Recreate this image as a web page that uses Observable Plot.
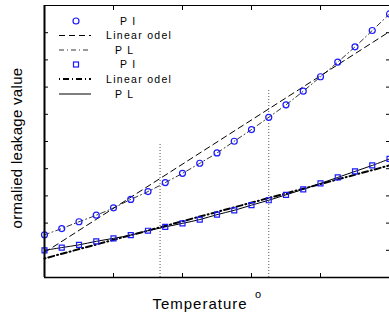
<!DOCTYPE html>
<html><head><meta charset="utf-8">
<script src="https://cdn.jsdelivr.net/npm/d3@7"></script>
<script src="https://cdn.jsdelivr.net/npm/@observablehq/plot@0.6"></script>
<style>body{margin:0;background:#fff} svg{display:block;overflow:visible}</style>
</head><body><div id="chart"></div>
<script>
const temps = [0,1,2,3,4,5,6,7,8,9,10,11,12,13,14,15,16,17,18,19,20];
const circleVals = [1.57,1.80,2.05,2.29,2.56,2.87,3.16,3.49,3.83,4.20,4.58,5.01,5.44,5.89,6.35,6.85,7.38,7.92,8.48,9.08,9.69];
const squareVals = [1.00,1.10,1.20,1.33,1.44,1.56,1.72,1.86,1.99,2.13,2.31,2.47,2.66,2.84,3.04,3.24,3.46,3.68,3.90,4.12,4.36];
const linearTemps = [0, 20];
const linearCircle = [0.92, 9.04];
const linearSquare = [0.70, 4.12];
const markerTemps = [6.7, 13];
const markerTops = [4.93, 6.95];
const xTicks = [0,4,8,12,16,20];
const yTicks = [0,1,2,3,4,5,6,7,8,9,10];
const legendLabels = ["P I","Linear odel","P L","P I","Linear odel","P L"];
const xLabel = "Temperature";
const xLabelSup = "o";
const yLabel = "ormalied leakage value";

const circles = temps.map((t,i)=>({t, v: circleVals[i]}));
const squares = temps.map((t,i)=>({t, v: squareVals[i]}));
const lin1 = linearTemps.map((t,i)=>({t, v: linearCircle[i]}));
const lin2 = linearTemps.map((t,i)=>({t, v: linearSquare[i]}));
const markers = markerTemps.map((t,i)=>({t, top: markerTops[i]}));
const blue = "#1a1aff";

function decorations(index, scales, values, dims) {
  const g = d3.create("svg:g").attr("font-family", "'Liberation Sans', Arial, sans-serif").attr("text-anchor", "start");
  const rows = [21, 35.5, 50, 64.5, 79, 94];
  const textX = [120, 106, 115, 120, 106, 115];
  const lx1 = 59, lx2 = 91, sx = 76;
  g.append("circle").attr("cx", sx).attr("cy", rows[0]).attr("r", 3).attr("fill", "none").attr("stroke", blue).attr("stroke-width", 1.2);
  g.append("line").attr("x1", lx1).attr("x2", lx2).attr("y1", rows[1]).attr("y2", rows[1]).attr("stroke", "#000").attr("stroke-dasharray", "6,4");
  g.append("line").attr("x1", lx1).attr("x2", lx2).attr("y1", rows[2]).attr("y2", rows[2]).attr("stroke", "#000").attr("stroke-width", 0.8).attr("stroke-dasharray", "5,3,1,3");
  g.append("rect").attr("x", sx-2.5).attr("y", rows[3]-2.5).attr("width", 5).attr("height", 5).attr("fill", "none").attr("stroke", blue).attr("stroke-width", 1.2);
  g.append("line").attr("x1", lx1).attr("x2", lx2).attr("y1", rows[4]).attr("y2", rows[4]).attr("stroke", "#000").attr("stroke-width", 2).attr("stroke-dasharray", "1,3,6,3");
  g.append("line").attr("x1", lx1).attr("x2", lx2).attr("y1", rows[5]).attr("y2", rows[5]).attr("stroke", "#000").attr("stroke-width", 1);
  legendLabels.forEach((s, i) => {
    g.append("text").attr("x", textX[i]).attr("y", rows[i]).attr("dy", "0.35em").attr("text-anchor", "start")
      .attr("font-size", 10.5).attr("letter-spacing", "1.3px").attr("fill", "#000").text(s);
  });
  g.append("text").attr("x", 200).attr("y", 309).attr("text-anchor", "middle")
    .attr("font-size", 15).attr("letter-spacing", "1px").text(xLabel);
  g.append("text").attr("x", 258).attr("y", 298).attr("text-anchor", "middle")
    .attr("font-size", 11).text(xLabelSup);
  g.append("text").attr("transform", "translate(22,148) rotate(-90)").attr("text-anchor", "middle")
    .attr("font-size", 15).attr("letter-spacing", "0.3px").text(yLabel);
  return g.node();
}

const chart = Plot.plot({
  width: 389, height: 320,
  marginLeft: 44, marginRight: 0, marginTop: 5, marginBottom: 43,
  x: {domain: [0, 20]},
  y: {domain: [0, 10]},
  style: {background: "#fff"},
  marks: [
    Plot.ruleY([10], {stroke: "#000", strokeWidth: 1}),
    Plot.axisX({anchor: "bottom", ticks: xTicks, tickSize: -4, tickFormat: () => "", label: null}),
    Plot.axisX({anchor: "top", ticks: xTicks, tickSize: -4, tickFormat: () => "", label: null}),
    Plot.axisY({anchor: "left", ticks: yTicks, tickSize: -4, tickFormat: () => "", label: null}),
    Plot.axisY({anchor: "right", ticks: yTicks, tickSize: -4, tickFormat: () => "", label: null}),
    Plot.ruleX(markers, {x: "t", y1: 0, y2: "top", stroke: "#555", strokeWidth: 1, strokeDasharray: "1,2"}),
    Plot.line(lin2, {x: "t", y: "v", stroke: "#000", strokeWidth: 2, strokeDasharray: "1,3,6,3"}),
    Plot.line(squares, {x: "t", y: "v", stroke: "#000", strokeWidth: 1, curve: "catmull-rom"}),
    Plot.line(lin1, {x: "t", y: "v", stroke: "#000", strokeWidth: 1, strokeDasharray: "6,4"}),
    Plot.line(circles, {x: "t", y: "v", stroke: "#000", strokeWidth: 0.8, strokeDasharray: "5,3,1,3", curve: "catmull-rom"}),
    Plot.dot(circles, {x: "t", y: "v", r: 3, stroke: blue, strokeWidth: 1.2, fill: "none"}),
    Plot.dot(squares, {x: "t", y: "v", symbol: "square", r: 2.8, stroke: blue, strokeWidth: 1.2, fill: "none"}),
    Plot.ruleX([0], {stroke: "#000", strokeWidth: 2}),
    Plot.ruleY([0], {stroke: "#000", strokeWidth: 1.5}),
    decorations
  ]
});
document.getElementById("chart").append(chart);
</script>
</body></html>
